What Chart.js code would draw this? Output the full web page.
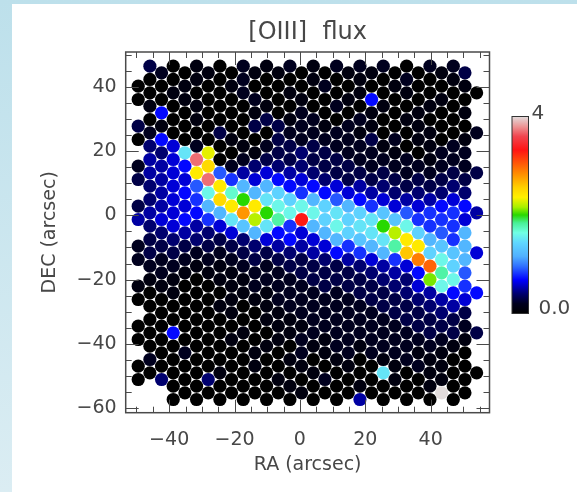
<!DOCTYPE html>
<html>
<head>
<meta charset="utf-8">
<script src="https://cdn.jsdelivr.net/npm/chart.js@4.4.1/dist/chart.umd.min.js"></script>
<style>
  html, body { margin: 0; padding: 0; }
  body { width: 577px; height: 492px; position: relative; overflow: hidden;
         background: linear-gradient(#bde0eb, #dbedf3); }
  #panel { position: absolute; left: 12px; top: 4px; width: 565px; height: 488px; background: #fff; }
  canvas { display: block; }
</style>
</head>
<body>
<div id="panel"><canvas id="map" width="565" height="488"></canvas></div>
<script>
// [OIII] flux of every fibre, one string per half-row of the hex grid, top to bottom.
// Even half-rows hold columns -14,-12..14, odd half-rows hold columns -13,-11..15.
// Each character is the flux in tenths (0-9, A=1.0 .. Z=3.5, a=3.6 ..), '.' = no fibre.
const fluxRows = [
  '30102121222022.',
  '.20101100110013',
  '00102001010201.',
  '001010002001001',
  '010020100101000',
  '001002010170010',
  '10100100201010.',
  '.70001020010101',
  '00100312020100.',
  '310003321210100',
  '200300222100102',
  '070010322232101',
  '46201233221012.',
  '.4FN01343221022',
  '56b02333322212.',
  '257P24443322222',
  '56O956543332233',
  '356b86764333333',
  '469OCC77654334.',
  '.57GHCE87654444',
  '468PKFEC976556.',
  '356COOGGEC86677',
  '567CSKGGFED9885',
  '5678FMIXEEFD886',
  '4656DF8CGFKG88.',
  '.4546C76CEFME9C',
  '34434676CDFOC8.',
  '2333345568CIODC',
  '3322334578CQED6',
  '222223334568TGC',
  '221122333456UE.',
  '.211122333457I9',
  '110112233344LG.',
  '1100122233346G8',
  '010011222334577',
  '000011222233456',
  '00010122223345.',
  '.00010122223343',
  '00000112222333.',
  '000000112222332',
  '070010122222333',
  '000010121222221',
  '00000101212221.',
  '.02001021222110',
  '20000010101210.',
  '000001010101210',
  '0001000100F0100',
  '040400102001010',
  '.0000010010010.',
  '..00000100000f0',
  '.0000000050000.'
];
const levelCodes = '0123456789ABCDEFGHIJKLMNOPQRSTUVWXYZabcdefg';
const firstHalfRow = -23;
const firstColumn = -14;
// fibre grid: RA of column 0 and column pitch, DEC of half-row 0 and half-row pitch (arcsec)
const raOrigin = 0.51, raStep = 3.57;
const decOrigin = -1.30, decStep = 2.074;

const raRange = [-53.3, 58.0];
const decRange = [-61.4, 50.8];
const xTicks = [-40, -20, 0, 20, 40];
const yTicks = [-60, -40, -20, 0, 20, 40];
const fluxMax = 4;
const colorbarLabels = ['4', '0.0'];

// colour table (fraction of fluxMax -> rgb)
const cmapStops = [
  [0.00, [0, 0, 0]],
  [0.05, [0, 0, 30]],
  [0.10, [0, 0, 110]],
  [0.17, [0, 0, 255]],
  [0.24, [48, 112, 255]],
  [0.29, [80, 176, 255]],
  [0.36, [96, 216, 255]],
  [0.41, [112, 255, 228]],
  [0.46, [72, 240, 150]],
  [0.50, [40, 216, 0]],
  [0.54, [168, 240, 0]],
  [0.59, [255, 240, 0]],
  [0.64, [255, 208, 0]],
  [0.71, [255, 140, 0]],
  [0.78, [255, 70, 10]],
  [0.83, [255, 20, 20]],
  [0.90, [240, 70, 80]],
  [0.95, [236, 150, 150]],
  [1.00, [226, 220, 220]]
];

function fluxColor(v) {
  const f = Math.max(0, Math.min(1, v / fluxMax));
  for (let i = 1; i < cmapStops.length; i++) {
    const [f1, c1] = cmapStops[i];
    const [f0, c0] = cmapStops[i - 1];
    if (f <= f1) {
      const t = (f - f0) / (f1 - f0);
      const c = c0.map((a, j) => Math.round(a + (c1[j] - a) * t));
      return `rgb(${c[0]},${c[1]},${c[2]})`;
    }
  }
  return 'rgb(226,220,220)';
}

// unpack the rows into fibre points
const fibres = [];
fluxRows.forEach((row, i) => {
  const k = firstHalfRow + i;
  const parity = ((k % 2) + 2) % 2;
  [...row].forEach((ch, j) => {
    if (ch === '.') return;
    const c = firstColumn + parity + 2 * j;
    fibres.push({
      x: raOrigin + c * raStep,
      y: decOrigin - k * decStep,
      v: levelCodes.indexOf(ch) / 10
    });
  });
});

const ink = '#474747';
const family = "'DejaVu Sans', sans-serif";
const minus = v => (v < 0 ? '\u2212' + Math.abs(v) : String(v));

// frame, inward IDL-style ticks and the colour bar
const decorations = {
  id: 'decorations',
  afterDatasetsDraw(chart) {
    const { ctx, chartArea: a, scales: { x, y } } = chart;
    ctx.save();
    ctx.strokeStyle = '#4a4a4a';
    ctx.lineWidth = 1;
    ctx.beginPath();
    for (let v = Math.ceil(raRange[0] / 5) * 5; v <= raRange[1]; v += 5) {
      const len = v % 20 === 0 ? 13 : 6;
      const px = Math.round(x.getPixelForValue(v)) + 0.5;
      ctx.moveTo(px, a.bottom); ctx.lineTo(px, a.bottom - len);
      ctx.moveTo(px, a.top); ctx.lineTo(px, a.top + len);
    }
    for (let v = Math.ceil(decRange[0] / 5) * 5; v <= decRange[1]; v += 5) {
      const len = v % 20 === 0 ? 13 : 6;
      const py = Math.round(y.getPixelForValue(v)) + 0.5;
      ctx.moveTo(a.left, py); ctx.lineTo(a.left + len, py);
      ctx.moveTo(a.right, py); ctx.lineTo(a.right - len, py);
    }
    ctx.stroke();
    ctx.lineWidth = 1.5;
    ctx.strokeRect(a.left, a.top, a.width, a.height);

    // colour bar to the right of the map
    const bx = 500, bw = 16.5, top = 112.5, bottom = 309.5;
    const grad = ctx.createLinearGradient(0, bottom, 0, top);
    cmapStops.forEach(([f]) => grad.addColorStop(f, fluxColor(f * fluxMax)));
    ctx.fillStyle = grad;
    ctx.fillRect(bx, top, bw, bottom - top);
    ctx.lineWidth = 1;
    ctx.strokeStyle = '#333';
    ctx.strokeRect(bx, top, bw, bottom - top);
    ctx.fillStyle = ink;
    ctx.font = `20px ${family}`;
    ctx.textBaseline = 'alphabetic';
    ctx.textAlign = 'left';
    ctx.fillText(colorbarLabels[0], bx + bw + 3, top + 2);
    ctx.fillText(colorbarLabels[1], bx + bw + 10, bottom);
    ctx.restore();
  }
};

new Chart(document.getElementById('map'), {
  type: 'bubble',
  data: {
    datasets: [{
      data: fibres,
      radius: 6.6,
      borderWidth: 0,
      backgroundColor: c => fluxColor(c.raw ? c.raw.v : 0)
    }]
  },
  options: {
    responsive: false,
    animation: false,
    events: [],
    layout: { padding: { left: 0, right: 87.5, top: 0, bottom: 0 } },
    plugins: {
      legend: { display: false },
      tooltip: { enabled: false },
      title: {
        display: true,
        text: '[OIII]  flux',
        fullSize: false,
        color: ink,
        font: { family: family, size: 24, weight: 'normal', lineHeight: 1.2 },
        padding: { top: 14.6, bottom: 4.6 }
      }
    },
    scales: {
      x: {
        type: 'linear',
        min: raRange[0], max: raRange[1],
        grid: { display: false, drawTicks: false },
        border: { display: false },
        afterBuildTicks: s => { s.ticks = xTicks.map(v => ({ value: v })); },
        afterFit: s => { s.height = 79.3; },
        ticks: { color: ink, padding: 16, maxRotation: 0, autoSkip: false,
                 font: { family: family, size: 19 }, callback: minus },
        title: { display: true, text: 'RA (arcsec)', color: ink,
                 font: { family: family, size: 19, lineHeight: 1.2 },
                 padding: { top: 0, bottom: 15.6 } }
      },
      y: {
        type: 'linear',
        min: decRange[0], max: decRange[1],
        grid: { display: false, drawTicks: false },
        border: { display: false },
        afterBuildTicks: s => { s.ticks = yTicks.map(v => ({ value: v })); },
        afterFit: s => { s.width = 113.7; },
        ticks: { color: ink, padding: 9, autoSkip: false,
                 font: { family: family, size: 19 }, callback: minus },
        title: { display: true, text: 'DEC (arcsec)', color: ink,
                 font: { family: family, size: 19, lineHeight: 1.2 },
                 padding: { top: 26.6, bottom: 0 } }
      }
    }
  },
  plugins: [decorations]
});
</script>
</body>
</html>
